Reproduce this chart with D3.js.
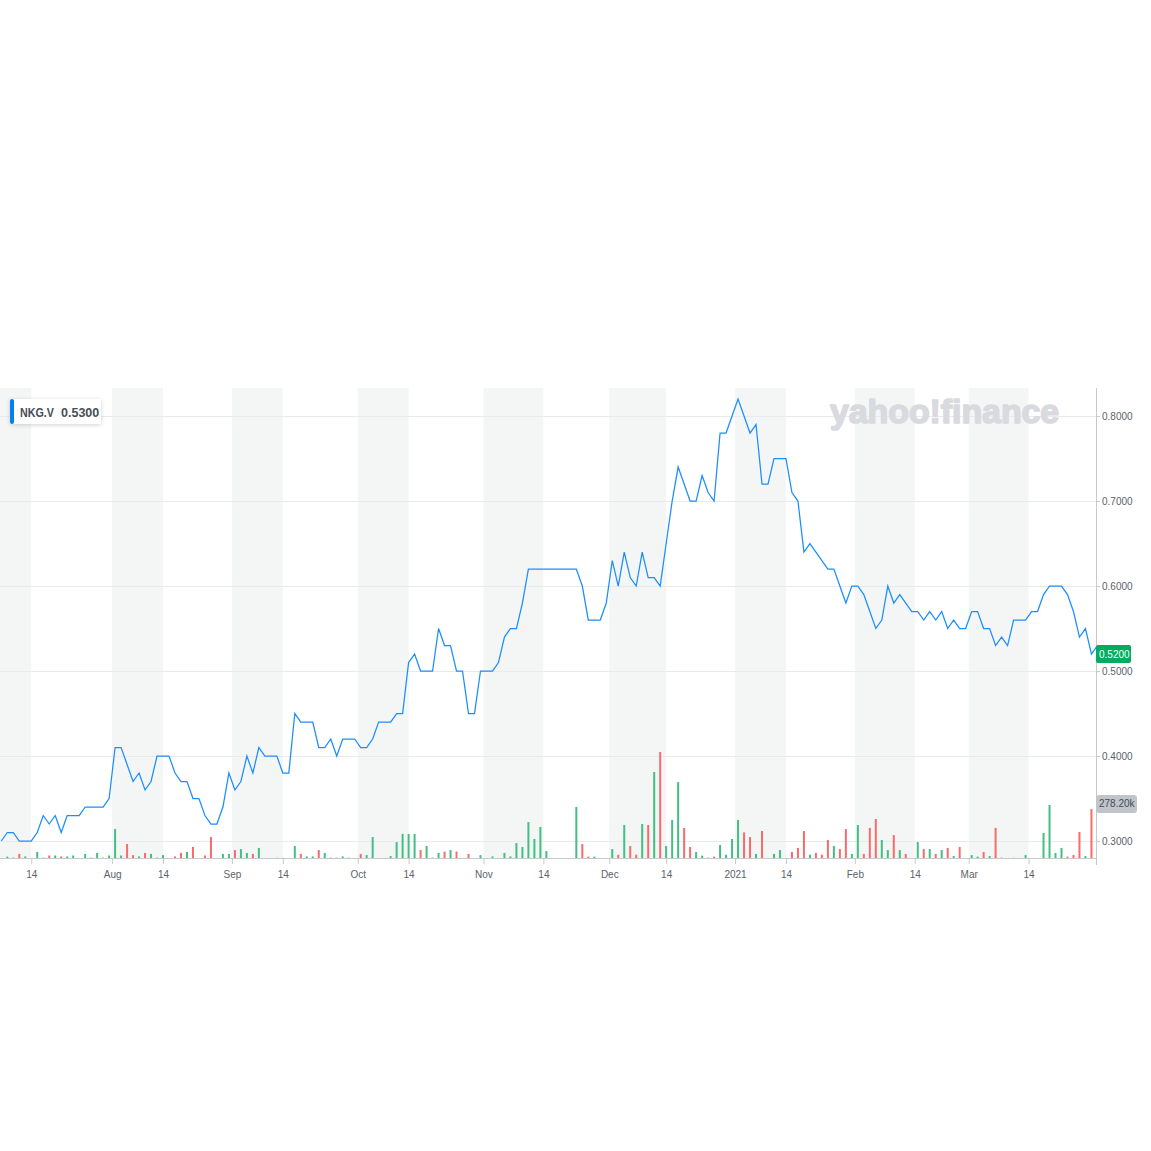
<!DOCTYPE html>
<html>
<head>
<meta charset="utf-8">
<script src="https://cdn.jsdelivr.net/npm/d3@7"></script>
<style>
  html, body { margin: 0; padding: 0; background: #ffffff; }
  svg { display: block; font-family: "Liberation Sans", Arial, Helvetica, sans-serif; }
</style>
</head>
<body>
<svg id="chart" width="1151" height="1151"></svg>
<script>
// ---- data (one value per trading day, Jul 7 2020 .. Mar 30 2021) ----
const symbol = "NKG.V";
const lastPrice = 0.53;
const markerPrice = 0.52;
const lastVolume = 278.2; // thousands

const prices = [
  0.30,0.31,0.31,0.30,0.30,0.30,0.31,0.33,0.32,0.33,
  0.31,0.33,0.33,0.33,0.34,0.34,0.34,0.34,0.35,0.41,
  0.41,0.39,0.37,0.38,0.36,0.37,0.40,0.40,0.40,0.38,
  0.37,0.37,0.35,0.35,0.33,0.32,0.32,0.34,0.38,0.36,
  0.37,0.40,0.38,0.41,0.40,0.40,0.40,0.38,0.38,0.45,
  0.44,0.44,0.44,0.41,0.41,0.42,0.40,0.42,0.42,0.42,
  0.41,0.41,0.42,0.44,0.44,0.44,0.45,0.45,0.51,0.52,
  0.50,0.50,0.50,0.55,0.53,0.53,0.50,0.50,0.45,0.45,
  0.50,0.50,0.50,0.51,0.54,0.55,0.55,0.58,0.62,0.62,
  0.62,0.62,0.62,0.62,0.62,0.62,0.62,0.60,0.56,0.56,
  0.56,0.58,0.63,0.60,0.64,0.61,0.60,0.64,0.61,0.61,
  0.60,0.65,0.70,0.74,0.72,0.70,0.70,0.73,0.71,0.70,
  0.78,0.78,0.80,0.82,0.80,0.78,0.79,0.72,0.72,0.75,
  0.75,0.75,0.71,0.70,0.64,0.65,0.64,0.63,0.62,0.62,
  0.60,0.58,0.60,0.60,0.59,0.57,0.55,0.56,0.60,0.58,
  0.59,0.58,0.57,0.57,0.56,0.57,0.56,0.57,0.55,0.56,
  0.55,0.55,0.57,0.57,0.55,0.55,0.53,0.54,0.53,0.56,
  0.56,0.56,0.57,0.57,0.59,0.60,0.60,0.60,0.59,0.57,
  0.54,0.55,0.52,0.53
];

// volume in thousands of shares
const volumes = [
  0,7,2,21,8,0,31,2,13,13,
  8,8,13,0,21,2,26,2,13,149,
  13,72,15,8,26,21,2,15,0,8,
  26,31,57,0,13,108,0,21,21,41,
  46,26,21,52,0,0,1,1,0,62,
  21,8,8,41,26,2,2,8,2,0,
  21,15,108,0,0,10,82,124,124,124,
  41,62,2,26,33,41,33,0,21,0,
  15,0,8,0,26,8,77,57,185,98,
  160,36,0,0,0,0,263,72,7,7,
  0,0,46,17,170,62,17,175,170,443,
  546,62,196,391,155,57,31,12,2,7,
  67,17,98,196,132,108,21,139,0,21,
  41,0,31,52,139,17,26,17,93,62,
  46,149,21,170,21,155,201,93,41,118,
  41,21,0,82,46,46,21,41,52,10,
  57,0,15,7,31,10,155,2,0,1,
  0,15,0,0,129,273,26,52,7,15,
  134,10,252,278.2
];

// x-axis ticks: label and trading-day index position
const tickLabels = ["14","Aug","14","Sep","14","Oct","14","Nov","14","Dec","14","2021","14","Feb","14","Mar","14"];
const tickIndex  = [5,18.5,27,38.5,47,59.5,68,80.5,90.5,101.5,111,122.5,131,142.5,152.5,161.5,171.5];

const priceTicks = [0.3,0.4,0.5,0.6,0.7,0.8];

// ---- layout ----
const svg = d3.select("#chart");
const L = 0, R = 1096, T = 388, B = 858;

const x = d3.scaleLinear().domain([-0.217, 182.76]).range([L, R]);
const y = d3.scaleLinear().domain([0.28, 0.833]).range([B, T]);
const yVol = d3.scaleLinear().domain([0, 600]).range([B, B - 600 / 5.15]);

const defs = svg.append("defs");
defs.append("clipPath").attr("id", "plotclip")
  .append("rect").attr("x", L).attr("y", T).attr("width", R - L).attr("height", B - T);
const f = defs.append("filter").attr("id", "shadow").attr("x", "-20%").attr("y", "-40%").attr("width", "140%").attr("height", "180%");
f.append("feDropShadow").attr("dx", 0).attr("dy", 1).attr("stdDeviation", 2)
  .attr("flood-color", "#000").attr("flood-opacity", 0.18);

// ---- shaded bands (month start .. 14th) ----
const bands = [[x.domain()[0], tickIndex[0]]];
tickLabels.forEach((lab, i) => {
  if (lab !== "14" && i + 1 < tickIndex.length) bands.push([tickIndex[i], tickIndex[i + 1]]);
});
svg.append("g").selectAll("rect").data(bands).join("rect")
  .attr("x", d => x(d[0])).attr("y", T)
  .attr("width", d => x(d[1]) - x(d[0])).attr("height", B - T)
  .attr("fill", "#f4f6f6");

// ---- horizontal grid ----
svg.append("g").selectAll("line").data(priceTicks).join("line")
  .attr("x1", L).attr("x2", R)
  .attr("y1", d => Math.round(y(d)) + 0.5).attr("y2", d => Math.round(y(d)) + 0.5)
  .attr("stroke", "#e9eaeb").attr("stroke-width", 1);

// ---- watermark ----
svg.append("text").attr("x", 830).attr("y", 423)
  .attr("font-size", 34).attr("font-weight", 700)
  .attr("fill", "#d8dadf").attr("stroke", "#d8dadf").attr("stroke-width", 1.6)
  .attr("stroke-linejoin", "round").attr("letter-spacing", -0.1)
  .text("yahoo!finance");

// ---- volume bars ----
const plot = svg.append("g").attr("clip-path", "url(#plotclip)");
plot.append("g").selectAll("rect").data(volumes).join("rect")
  .attr("x", (d, i) => x(i) - 1).attr("width", 2)
  .attr("y", d => yVol(d)).attr("height", d => B - yVol(d))
  .attr("fill", (d, i) => (i === 0 || prices[i] >= prices[i - 1]) ? "#43bf83" : "#f96b6b");

// ---- price line ----
const line = d3.line().x((d, i) => x(i)).y(d => y(d));
plot.append("path").datum(prices)
  .attr("d", line).attr("fill", "none")
  .attr("stroke", "#1a8dff").attr("stroke-width", 1.25)
  .attr("stroke-linejoin", "miter");

// ---- axes ----
const axisColor = "#c7c9cc";
const textColor = "#5b636a";

// bottom axis
const xAxis = d3.axisBottom(x).tickValues(tickIndex)
  .tickFormat((d, i) => tickLabels[i]).tickSize(6).tickPadding(7);
const gx = svg.append("g").attr("transform", `translate(0,${B})`).call(xAxis);
gx.select(".domain").attr("stroke", axisColor).attr("d", `M${L},0.5H${R}`);
gx.selectAll(".tick line").attr("stroke", axisColor);
gx.selectAll(".tick text").attr("fill", textColor).attr("font-size", 10)
  .attr("font-family", "'Liberation Sans', Arial, sans-serif");

// right axis
const yAxis = d3.axisRight(y).tickValues(priceTicks)
  .tickFormat(d3.format(".4f")).tickSize(4).tickPadding(2);
const gy = svg.append("g").attr("transform", `translate(${R},0)`).call(yAxis);
gy.select(".domain").attr("stroke", axisColor).attr("d", `M0.5,${T}V${B + 7}`);
gy.selectAll(".tick line").attr("stroke", axisColor);
gy.selectAll(".tick text").attr("fill", textColor).attr("font-size", 10)
  .attr("font-family", "'Liberation Sans', Arial, sans-serif");

// ---- current price marker ----
const pm = svg.append("g").attr("transform", `translate(${R},${y(markerPrice)})`);
pm.append("rect").attr("x", 0).attr("y", -9).attr("width", 35).attr("height", 18)
  .attr("rx", 2).attr("fill", "#00ad5f");
pm.append("text").attr("x", 3).attr("y", 0).attr("dy", "0.35em")
  .attr("font-size", 10).attr("fill", "#ffffff").text(d3.format(".4f")(markerPrice));

// ---- volume marker ----
const vm = svg.append("g").attr("transform", `translate(${R},${yVol(lastVolume)})`);
vm.append("rect").attr("x", 0).attr("y", -9).attr("width", 41).attr("height", 18)
  .attr("rx", 3).attr("fill", "#c0c4cb");
vm.append("text").attr("x", 3).attr("y", 0).attr("dy", "0.35em")
  .attr("font-size", 10).attr("fill", "#464e56").text(lastVolume.toFixed(2) + "k");

// ---- legend box ----
const lg = svg.append("g").attr("transform", "translate(10,399)");
lg.append("rect").attr("x", 0).attr("y", 0).attr("width", 91).attr("height", 25)
  .attr("rx", 2).attr("fill", "#ffffff").attr("filter", "url(#shadow)");
lg.append("rect").attr("x", 0).attr("y", 0).attr("width", 4).attr("height", 25)
  .attr("rx", 2).attr("fill", "#0081f2");
lg.append("text").attr("x", 10).attr("y", 18)
  .attr("font-size", 12.5).attr("font-weight", 700).attr("fill", "#464e56")
  .attr("textLength", 34).attr("lengthAdjust", "spacingAndGlyphs")
  .text(symbol);
lg.append("text").attr("x", 51).attr("y", 18)
  .attr("font-size", 12.5).attr("font-weight", 700).attr("fill", "#464e56")
  .text(d3.format(".4f")(lastPrice));
</script>
</body>
</html>
